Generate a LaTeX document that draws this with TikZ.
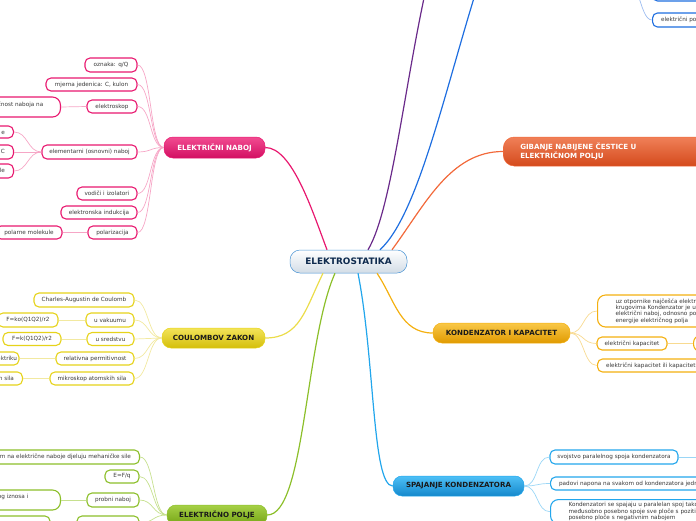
\documentclass[tikz,border=0pt]{standalone}
\usepackage{fontspec}
\setmainfont{DejaVu Sans}
\definecolor{pinkM}{HTML}{E8186F}
\definecolor{pinkT}{HTML}{F24C91}
\definecolor{pinkB}{HTML}{D20F62}
\definecolor{pinkL}{HTML}{F6A6C6}
\definecolor{yelM}{HTML}{E6D31A}
\definecolor{yelT}{HTML}{F3E45A}
\definecolor{yelB}{HTML}{D4BE0A}
\definecolor{yelL}{HTML}{F2E9A0}
\definecolor{grnM}{HTML}{8CBF2A}
\definecolor{grnT}{HTML}{A6D046}
\definecolor{grnB}{HTML}{74A414}
\definecolor{grnL}{HTML}{C6E08E}
\definecolor{bluM}{HTML}{22A6EC}
\definecolor{bluT}{HTML}{4EC0F6}
\definecolor{bluB}{HTML}{1488CC}
\definecolor{bluL}{HTML}{9AD6F6}
\definecolor{ornM}{HTML}{F4B010}
\definecolor{ornT}{HTML}{F9C848}
\definecolor{ornB}{HTML}{E09A00}
\definecolor{ornL}{HTML}{F8DA90}
\definecolor{redM}{HTML}{F2693A}
\definecolor{redT}{HTML}{F08058}
\definecolor{redB}{HTML}{D44A1C}
\definecolor{purM}{HTML}{6A2A8A}
\definecolor{dbM}{HTML}{1E6EE0}
\definecolor{dbL}{HTML}{9CBCF0}
\definecolor{cBord}{HTML}{4A94D4}
\definecolor{cBot}{HTML}{D2DCE6}
\definecolor{navy}{HTML}{0E2A4E}
\definecolor{txt}{HTML}{3A3A3A}
\definecolor{dark}{HTML}{1A1A1A}
\begin{document}
\begin{tikzpicture}[x=1pt,y=-1pt,
  box/.style={draw, rounded corners=5pt, line width=1.1pt, fill=white, inner sep=0pt, text=txt, font=\fontsize{5.7}{6.4}\selectfont},
  sbox/.style={box, inner xsep=8.5pt},
  mbox/.style={box, align=left, inner xsep=18pt, inner ysep=3pt, rounded corners=8pt},
  lbl/.style={inner sep=0pt, text=txt, font=\fontsize{5.7}{6.4}\selectfont},
  main/.style={rounded corners=9pt, inner sep=0pt, line width=0.5pt, font=\bfseries\fontsize{7.1}{8.6}\selectfont},
  conn/.style={line width=1.2pt},
  sub/.style={line width=0.7pt},
  ]
\useasboundingbox (0,0) rectangle (696,520);
\clip (0,0) rectangle (696,520);

\coordinate (purp) at (428,-20);
\coordinate (blu) at (478,-15);
\coordinate (tr) at (612,-35);
\coordinate (svoR) at (712,457);

% ---------- main nodes ----------
\node[main, draw=cBord, top color=white, bottom color=cBot, text=navy, minimum width=117pt, minimum height=23pt, rounded corners=10pt, font=\bfseries\fontsize{8.9}{10}\selectfont] (c) at (348.5,261.5) {ELEKTROSTATIKA};
\node[main, draw=pinkM, top color=pinkT, bottom color=pinkB, text=white, minimum width=101pt, minimum height=21pt] (nab) at (214.5,147.5) {ELEKTRIČNI NABOJ};
\node[main, draw=yelM, top color=yelT, bottom color=yelB, text=dark, minimum width=103pt, minimum height=20pt] (coul) at (213.5,338) {COULOMBOV ZAKON};
\node[main, draw=grnM, top color=grnT, bottom color=grnB, text=dark, minimum width=100pt, minimum height=20pt] (polje) at (217,515) {ELEKTRIČNO POLJE};
\node[main, draw=bluM, top color=bluT, bottom color=bluB, text=dark, minimum width=131pt, minimum height=20pt] (spaj) at (458.5,486) {SPAJANJE KONDENZATORA};
\node[main, draw=ornM, top color=ornT, bottom color=ornB, text=dark, minimum width=137pt, minimum height=20pt] (kond) at (501.5,333) {KONDENZATOR I KAPACITET};
\node[main, draw=redM, top color=redT, bottom color=redB, text=white, align=left, anchor=west, text width=200pt, inner xsep=17pt, minimum height=29pt, rounded corners=11pt] (gib) at (503,151.5) {GIBANJE NABIJENE ČESTICE U\\ELEKTRIČNOM POLJU};

% main connectors
\draw[conn, pinkM] ([xshift=-21.5pt]c.north) .. controls (312,210) and (292,147.5) .. (nab.east);
\draw[conn, purM] ([xshift=19.5pt]c.north) .. controls (392,210) and (405,80) .. (purp);
\draw[conn, dbM] ([xshift=31.5pt]c.north) .. controls (418,215) and (445,90) .. (blu);
\draw[conn, redM] ([xshift=43.5pt]c.north) .. controls (425,205) and (450,151.5) .. (gib.west);
\draw[conn, yelM!80!white] ([xshift=-25.5pt]c.south) .. controls (305,310) and (300,338) .. (coul.east);
\draw[conn, grnM] ([xshift=-13.5pt]c.south) .. controls (305,340) and (305,515) .. (polje.east);
\draw[conn, bluM] ([xshift=9.5pt]c.south) .. controls (375,360) and (372,486) .. (spaj.west);
\draw[conn, ornM] ([xshift=28.5pt]c.south) .. controls (395,300) and (400,333) .. (kond.west);

% ---------- ELEKTRICNI NABOJ ----------
\begin{scope}[every node/.append style={draw=pinkM}]
\node[box, minimum width=52pt, minimum height=14pt] (oz) at (111,65) {oznaka: q/Q};
\node[box, minimum width=91pt, minimum height=13pt] (mj) at (91.5,84.5) {mjerna jedenica: C, kulon};
\node[box, minimum width=50pt, minimum height=13pt] (esk) at (112,106.5) {elektroskop};
\node[box, anchor=east, minimum width=120pt, minimum height=20pt, rounded corners=8pt] (eskL) at (61,107) {};
\node[box, minimum width=95pt, minimum height=14pt] (el) at (89.5,152) {elementarni (osnovni) naboj};
\node[sbox, anchor=east, minimum height=12pt] (el1) at (14,132) {oznaka: e};
\node[sbox, anchor=east, minimum height=14pt] (el2) at (14,152) {iznos: 1,6·10⁻¹⁹ C};
\node[sbox, anchor=east, minimum height=14pt] (el3) at (14,171) {naboj čestice ili molekule};
\node[box, minimum width=60pt, minimum height=13pt] (vod) at (107,193.5) {vodiči i izolatori};
\node[box, minimum width=76pt, minimum height=13pt] (ind) at (99,212.5) {elektronska indukcija};
\node[box, minimum width=49pt, minimum height=13pt] (pol) at (112.5,232.5) {polarizacija};
\node[box, minimum width=66pt, minimum height=13pt] (polm) at (29,232.5) {polarne molekule};
\end{scope}
\node[lbl, anchor=east] (eskT) at (43.5,105) {uređaj koji pokazuje prisutnost i električnost naboja na};
\foreach \n in {oz,mj,esk,el,vod,ind,pol}
  \draw[sub, pinkL] (nab.west) .. controls +(-14,0) and +(14,0) .. (\n.east);
\foreach \n in {el1,el2,el3}
  \draw[sub, pinkL] (el.west) .. controls +(-14,0) and +(14,0) .. (\n.east);
\draw[sub, pinkL] (esk.west) -- (eskL.east);
\draw[sub, pinkL] (pol.west) -- (polm.east);

% ---------- COULOMBOV ZAKON ----------
\begin{scope}[every node/.append style={draw=yelM}]
\node[box, minimum width=100pt, minimum height=14pt] (ch) at (84,300) {Charles-Augustin de Coulomb};
\node[box, minimum width=48pt, minimum height=14pt] (vak) at (110,320) {u vakuumu};
\node[box, minimum width=60pt, minimum height=14pt] (fko) at (28,320) {F=ko(Q1Q2)/r2};
\node[box, minimum width=47pt, minimum height=13pt] (sred) at (110.5,339) {u sredstvu};
\node[box, minimum width=58pt, minimum height=13pt] (fk) at (32,339) {F=k(Q1Q2)/r2};
\node[box, minimum width=78pt, minimum height=13pt] (rel) at (95,358.5) {relativna permitivnost};
\node[sbox, anchor=east, minimum height=13pt, inner xsep=2pt] (diel) at (19.5,358.5) {permitivnost u dielektriku};
\node[box, minimum width=84pt, minimum height=13pt] (mik) at (92,378.5) {mikroskop atomskih sila};
\node[sbox, anchor=east, minimum height=13pt] (ats) at (23,378.5) {mjerenje atomskih sila};
\end{scope}
\foreach \n in {ch,vak,sred,rel,mik}
  \draw[sub, yelL] (coul.west) .. controls +(-14,0) and +(14,0) .. (\n.east);
\draw[sub, yelL] (vak.west) -- (fko.east);
\draw[sub, yelL] (sred.west) -- (fk.east);
\draw[sub, yelL] (rel.west) -- (diel.east);
\draw[sub, yelL] (mik.west) -- (ats.east);

% ---------- ELEKTRICNO POLJE ----------
\begin{scope}[every node/.append style={draw=grnM}]
\node[sbox, anchor=east, minimum height=14pt] (gtop) at (140,457) {prostor oko naboja u kojem na električne naboje djeluju mehaničke sile};
\node[box, minimum width=34pt, minimum height=13pt] (efq) at (122,476.5) {E=F/q};
\node[box, minimum width=52pt, minimum height=14pt] (prob) at (113,500) {probni naboj};
\node[box, anchor=east, minimum width=120pt, minimum height=20pt, rounded corners=8pt] (probL) at (61,500) {};
\node[box, minimum width=62pt, minimum height=14pt] (gb1) at (108,523) {};
\node[box, minimum width=60pt, minimum height=14pt] (gb0) at (20,523) {};
\end{scope}
\node[lbl, anchor=east] (probT) at (28.5,497) {probni naboj je naboj malog iznosa i};
\foreach \n in {gtop,efq,prob,gb1}
  \draw[sub, grnL] (polje.west) .. controls +(-14,0) and +(14,0) .. (\n.east);
\draw[sub, grnL] (prob.west) -- (probL.east);
\draw[sub, grnL] (gb1.west) -- (gb0.east);

% ---------- KONDENZATOR I KAPACITET ----------
\begin{scope}[every node/.append style={draw=ornM}]
\node[mbox, anchor=west, minimum height=32pt] (uz) at (597,311) {uz otpornike najčešća elektronička komponenta u električnim\\krugovima Kondenzator je uređaj koji pohranjuje\\električni naboj, odnosno potencijalnu energiju u obliku\\energije električnog polja};
\node[box, minimum width=70pt, minimum height=13pt] (ek) at (632,343.5) {električni kapacitet};
\node[box, anchor=west, minimum width=60pt, minimum height=16pt, rounded corners=7pt] (ekR) at (693,343.5) {};
\node[sbox, anchor=west, minimum height=13pt] (eki) at (597,365.5) {električni kapacitet ili kapacitet kondenzatora};
\end{scope}
\foreach \n in {uz,ek,eki}
  \draw[sub, ornL] (kond.east) .. controls +(14,0) and +(-14,0) .. (\n.west);
\draw[sub, ornL] (ek.east) -- (ekR.west);

% ---------- SPAJANJE KONDENZATORA ----------
\begin{scope}[every node/.append style={draw=bluM}]
\node[box, minimum width=128pt, minimum height=14pt] (svo) at (614,457) {svojstvo paralelnog spoja kondenzatora};
\node[sbox, anchor=west, minimum height=13pt] (pad) at (550,483.5) {padovi napona na svakom od kondenzatora jednaki su naponu izvora};
\node[mbox, anchor=north west, inner ysep=3pt] (kon) at (550,499) {Kondenzatori se spajaju u paralelan spoj tako da se\\međusobno posebno spoje sve ploče s pozitivnim nabojem i\\posebno ploče s negativnim nabojem};
\end{scope}
\foreach \n in {svo,pad,kon}
  \draw[sub, bluL] (spaj.east) .. controls +(14,0) and +(-14,0) .. (\n.west);
\draw[sub, bluL] (svo.east) -- (svoR);

% ---------- top right (blue branch) ----------
\begin{scope}[every node/.append style={draw=dbM}]
\node[sbox, anchor=west, minimum height=14pt] (trA) at (652,-6) {električno polje};
\node[sbox, anchor=west, minimum height=14pt] (trB) at (652,20) {električni potencijal};
\end{scope}
\draw[sub, dbL] (tr) .. controls (640,-35) and (638,-6) .. (trA.west);
\draw[sub, dbL] (tr) .. controls (640,-35) and (638,20) .. (trB.west);
\end{tikzpicture}
\end{document}
